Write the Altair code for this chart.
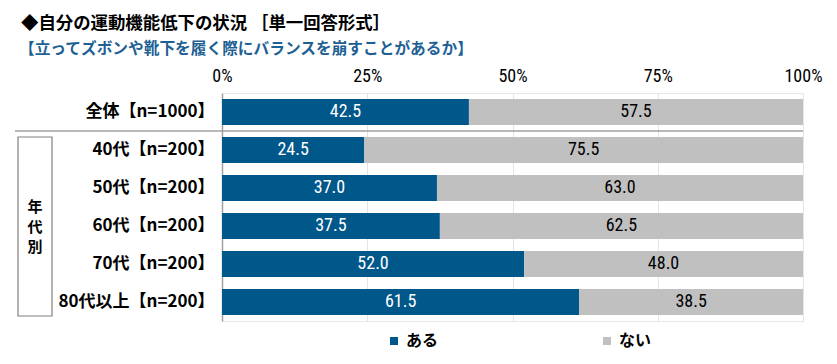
import altair as alt
import pandas as pd

categories = ["全体【n=1000】", "40代【n=200】", "50代【n=200】", "60代【n=200】", "70代【n=200】", "80代以上【n=200】"]
aru = [42.5, 24.5, 37.0, 37.5, 52.0, 61.5]
nai = [57.5, 75.5, 63.0, 62.5, 48.0, 38.5]
series = ["ある", "ない"]
colors = ["#00578A", "#C0C0C0"]
x_ticks = [0, 25, 50, 75, 100]

rows = []
for c, a, n in zip(categories, aru, nai):
    rows.append({"cat": c, "ans": "ある", "ord": 0, "value": a})
    rows.append({"cat": c, "ans": "ない", "ord": 1, "value": n})
df = pd.DataFrame(rows)

W, H = 581, 228
NARROW = "Liberation Sans Narrow, Roboto Condensed, Arial Narrow, sans-serif"
JP = "Noto Sans CJK JP, sans-serif"
MIX = "Liberation Sans Narrow, Noto Sans CJK JP, sans-serif"

yscale = alt.Scale(domain=categories, paddingInner=0.32, paddingOuter=0.16)
xscale = alt.Scale(domain=[0, 100], nice=False)
cscale = alt.Scale(domain=series, range=colors)

base = alt.Chart(df).transform_stack(
    stack="value", groupby=["cat"], as_=["x0", "x1"], sort=[alt.SortField("ord")]
).transform_calculate(mid="(datum.x0 + datum.x1) / 2")

bars = base.mark_bar(size=26).encode(
    y=alt.Y("cat:N", scale=yscale, title=None,
            axis=alt.Axis(labelFont=MIX, labelFontSize=17, labelFontWeight="bold",
                          labelColor="#000", labelPadding=8, ticks=False,
                          domainColor="#A0A0A0", domainWidth=1.5, labelLimit=300)),
    x=alt.X("x0:Q", scale=xscale, title=None,
            axis=alt.Axis(orient="top", values=x_ticks, labelExpr="datum.value + '%'",
                          labelFont=NARROW, labelFontSize=18, labelColor="#000",
                          labelFlush=False,
                          ticks=False, domain=False, labelPadding=8,
                          gridColor="#E4E4E4", gridWidth=1)),
    x2="x1:Q",
    color=alt.Color("ans:N", scale=cscale,
                    legend=alt.Legend(title=None, orient="none", legendX=164, legendY=240,
                                      direction="horizontal", symbolType="square",
                                      symbolSize=64, symbolStrokeWidth=0,
                                      labelFont=JP, labelFontSize=16, labelFontWeight="bold",
                                      labelColor="#000", columnPadding=160, labelOffset=4)),
)

labels = base.mark_text(font=NARROW, fontSize=18, baseline="middle").encode(
    y=alt.Y("cat:N", scale=yscale),
    x=alt.X("mid:Q", scale=xscale),
    text=alt.Text("value:Q", format=".1f"),
    color=alt.Color("ans:N", scale=alt.Scale(domain=series, range=["#FFFFFF", "#000000"]), legend=None),
)

one = pd.DataFrame({"k": [0]})

sep = alt.Chart(one).mark_rule(color="#A0A0A0", strokeWidth=1.5).encode(
    x=alt.value(-207), x2=alt.value(W), y=alt.value(38))

box = alt.Chart(one).mark_rect(fill="white", stroke="#808080", strokeWidth=1.2).encode(
    x=alt.value(-204), x2=alt.value(-170), y=alt.value(44), y2=alt.value(223))

box_text = alt.Chart(pd.DataFrame({"t": ["年\n代\n別"]})).mark_text(
    font=JP, fontSize=15, fontWeight="bold", lineBreak="\n", lineHeight=20,
    align="center", baseline="middle", color="#000").encode(
    x=alt.value(-187), y=alt.value(114), text="t:N")

title = alt.Chart(pd.DataFrame({"t": ["◆自分の運動機能低下の状況 ［単一回答形式］"]})).mark_text(
    font=JP, fontSize=17.4, fontWeight="bold", align="left", baseline="middle", color="#000").encode(
    x=alt.value(-201), y=alt.value(-69), text="t:N")

subtitle = alt.Chart(pd.DataFrame({"t": ["【立ってズボンや靴下を履く際にバランスを崩すことがあるか】"]})).mark_text(
    font=JP, fontSize=15.7, fontWeight="bold", align="left", baseline="middle", color="#1E5F94").encode(
    x=alt.value(-203), y=alt.value(-44), text="t:N")

chart = alt.layer(bars, labels, sep, box, box_text, title, subtitle).resolve_scale(
    color="independent"
).properties(
    width=W, height=H,
    autosize=alt.AutoSizeParams(type="none"),
    padding={"left": 214, "top": 85, "right": 20, "bottom": 30},
).configure_view(stroke="#E8E8E8")

chart.save("out.html", embed_options={"renderer": "svg", "actions": False})
